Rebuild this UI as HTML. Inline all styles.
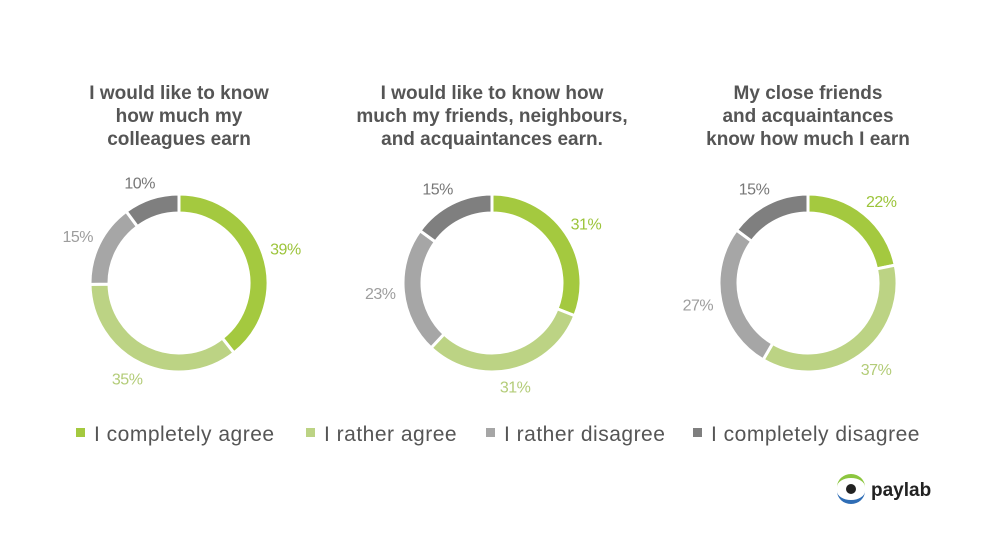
<!DOCTYPE html>
<html><head><meta charset="utf-8"><style>
body{margin:0;background:#fff;font-family:"Liberation Sans",sans-serif}
svg{display:block}
</style></head><body>
<svg id="c" width="1000" height="541">
</svg>
<script>
const titles=[["I would like to know","how much my","colleagues earn"],["I would like to know how","much my friends, neighbours,","and acquaintances earn."],["My close friends","and acquaintances","know how much I  earn"]];
const categories=["I completely  agree","I rather agree","I rather disagree","I completely disagree"];
const chart1=[39,35,15,10];
const chart2=[31,31,23,15];
const chart3=[22,37,27,15];
const series=[chart1,chart2,chart3];
const colors=["#a4c93f","#bcd384","#a6a6a6","#7f7f7f"];
const labelColors=["#9cc43a","#b3cc78","#9d9d9d","#777"];
const centers=[179,492,808], cy=283, R=89, r=70;
const svg=document.getElementById('c');
const NS="http://www.w3.org/2000/svg";
function mk(t,a){const e=document.createElementNS(NS,t);for(const k in a)e.setAttribute(k,a[k]);svg.appendChild(e);return e;}
function pt(cx,rad,a){return [cx+rad*Math.sin(a),cy-rad*Math.cos(a)];}
series.forEach((vals,ci)=>{
  const cx=centers[ci];
  titles[ci].forEach((ln,i)=>{
    const t=mk('text',{x:cx,y:99+i*23,'text-anchor':'middle','font-size':19,'font-weight':'bold',fill:'#555'});
    t.textContent=ln;
    
    
  });
  const tot=vals.reduce((a,b)=>a+b,0);
  let acc=0;
  vals.forEach((v,i)=>{
    const a0=acc/tot*2*Math.PI, a1=(acc+v)/tot*2*Math.PI; acc+=v;
    const [x0,y0]=pt(cx,R,a0),[x1,y1]=pt(cx,R,a1),[x2,y2]=pt(cx,r,a1),[x3,y3]=pt(cx,r,a0);
    const lg=(a1-a0)>Math.PI?1:0;
    const p=mk('path',{d:`M${x0},${y0}A${R},${R} 0 ${lg} 1 ${x1},${y1}L${x2},${y2}A${r},${r} 0 ${lg} 0 ${x3},${y3}Z`,fill:colors[i],stroke:'#fff','stroke-width':3});
    
    
    const am=(a0+a1)/2;
    const [lx,ly]=pt(cx,106,am);
    const s=Math.sin(am);
    const anc=s>0.25?'start':(s<-0.25?'end':'middle');
    const t=mk('text',{x:lx+(anc==='start'?-9:anc==='end'?9:0),y:ly+6,'text-anchor':anc,'font-size':16,fill:labelColors[i],'letter-spacing':'-0.5'});
    t.textContent=v+'%';
    
    
  });
});
const lx=[76,306,486,693];
categories.forEach((c,i)=>{
  const q=mk('rect',{x:lx[i],y:428,width:9,height:9,fill:colors[i]});
  
  
  const t=mk('text',{x:lx[i]+18,y:441,'font-size':21,fill:'#555','letter-spacing':'0.5'});
  t.textContent=c;
  
  
});
</script>
<svg style="position:absolute;left:834px;top:474px" width="110" height="34">
<path d="M3,13 A14,13 0 0 1 31,13 A14,9 0 0 0 3,13Z" fill="#8cc63f"/>
<path d="M3,17 A14,13 0 0 0 31,17 A14,9 0 0 1 3,17Z" fill="#2f6db5"/>
<circle cx="17" cy="15" r="5" fill="#222"/>
<text x="37" y="22" font-size="19" font-weight="bold" fill="#222" font-family="Liberation Sans,sans-serif">paylab</text>
</svg>
</body></html>
